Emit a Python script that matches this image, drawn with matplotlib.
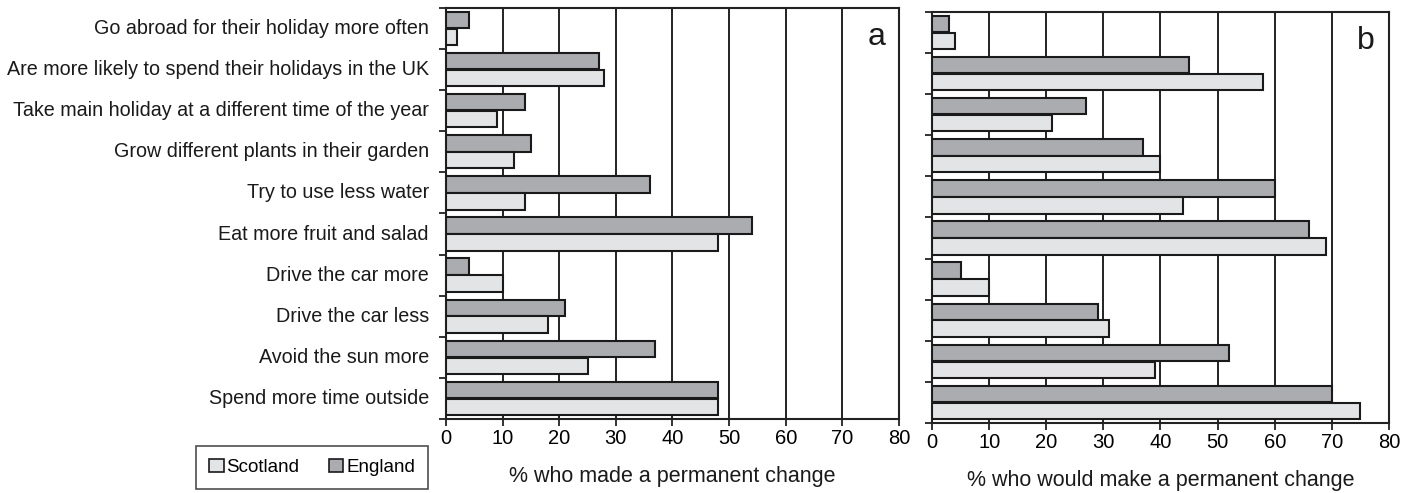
import numpy as np
import matplotlib.pyplot as plt
from matplotlib.patches import Patch

plt.rcParams['font.family'] = ['Liberation Sans', 'DejaVu Sans']

categories = [
    "Go abroad for their holiday more often",
    "Are more likely to spend their holidays in the UK",
    "Take main holiday at a different time of the year",
    "Grow different plants in their garden",
    "Try to use less water",
    "Eat more fruit and salad",
    "Drive the car more",
    "Drive the car less",
    "Avoid the sun more",
    "Spend more time outside",
]

# panel a: % who made a permanent change
made_england = [4, 27, 14, 15, 36, 54, 4, 21, 37, 48]
made_scotland = [2, 28, 9, 12, 14, 48, 10, 18, 25, 48]

# panel b: % who would make a permanent change
would_england = [3, 45, 27, 37, 60, 66, 5, 29, 52, 70]
would_scotland = [4, 58, 21, 40, 44, 69, 10, 31, 39, 75]

xticks = [0, 10, 20, 30, 40, 50, 60, 70, 80]

c_england = '#abacaf'
c_scotland = '#e3e4e6'
edge = '#1a1a1a'

fig = plt.figure(figsize=(14.13, 4.93), dpi=100)
ax_a = fig.add_axes([0.3156, 0.150, 0.3206, 0.834])
ax_b = fig.add_axes([0.6596, 0.142, 0.3234, 0.834])

y = np.arange(len(categories))
h = 0.40
off = 0.205


def panel(ax, eng, sco, letter, xlabel, show_labels):
    ax.barh(y - off, eng, height=h, color=c_england, edgecolor=edge,
            linewidth=1.5, zorder=3)
    ax.barh(y + off, sco, height=h, color=c_scotland, edgecolor=edge,
            linewidth=1.5, zorder=3)
    for gx in xticks[1:-1]:
        ax.axvline(gx, color='#111111', linewidth=1.3, zorder=1)
    ax.set_xlim(0, 80)
    ax.set_ylim(len(categories) - 0.5, -0.5)
    ax.set_xticks(xticks)
    ax.set_xticklabels([str(v) for v in xticks], fontsize=14.5)
    ax.set_yticks(np.arange(len(categories) + 1) - 0.5)
    ax.set_yticklabels([])
    ax.tick_params(axis='both', direction='out', length=5, width=1.3,
                   color='#222222', pad=2)
    for s in ax.spines.values():
        s.set_linewidth(1.5)
        s.set_color('#222222')
    ax.set_xlabel(xlabel, fontsize=15.5, labelpad=13, color='#1a1a1a')
    ax.text(0.95, 0.93, letter, transform=ax.transAxes, fontsize=23,
            ha='center', va='center', color='#1a1a1a')
    if show_labels:
        for i, lab in enumerate(categories):
            ax.text(-3.0, i, lab, ha='right', va='center', fontsize=14.2,
                    color='#1a1a1a')


panel(ax_a, made_england, made_scotland, 'a',
      '% who made a permanent change', True)
panel(ax_b, would_england, would_scotland, 'b',
      '% who would make a permanent change', False)

handles = [Patch(facecolor=c_scotland, edgecolor=edge, linewidth=1.2),
           Patch(facecolor=c_england, edgecolor=edge, linewidth=1.2)]
leg = fig.legend(handles, ['Scotland', 'England'], loc='center',
                 bbox_to_anchor=(0.221, 0.052), ncol=2, fontsize=13.5,
                 frameon=True, fancybox=False, edgecolor='#222222',
                 handlelength=0.75, handleheight=0.75, handletextpad=0.15,
                 columnspacing=1.6, borderpad=0.7)
leg.get_frame().set_linewidth(1.2)

fig.savefig('out.png', dpi=100)
